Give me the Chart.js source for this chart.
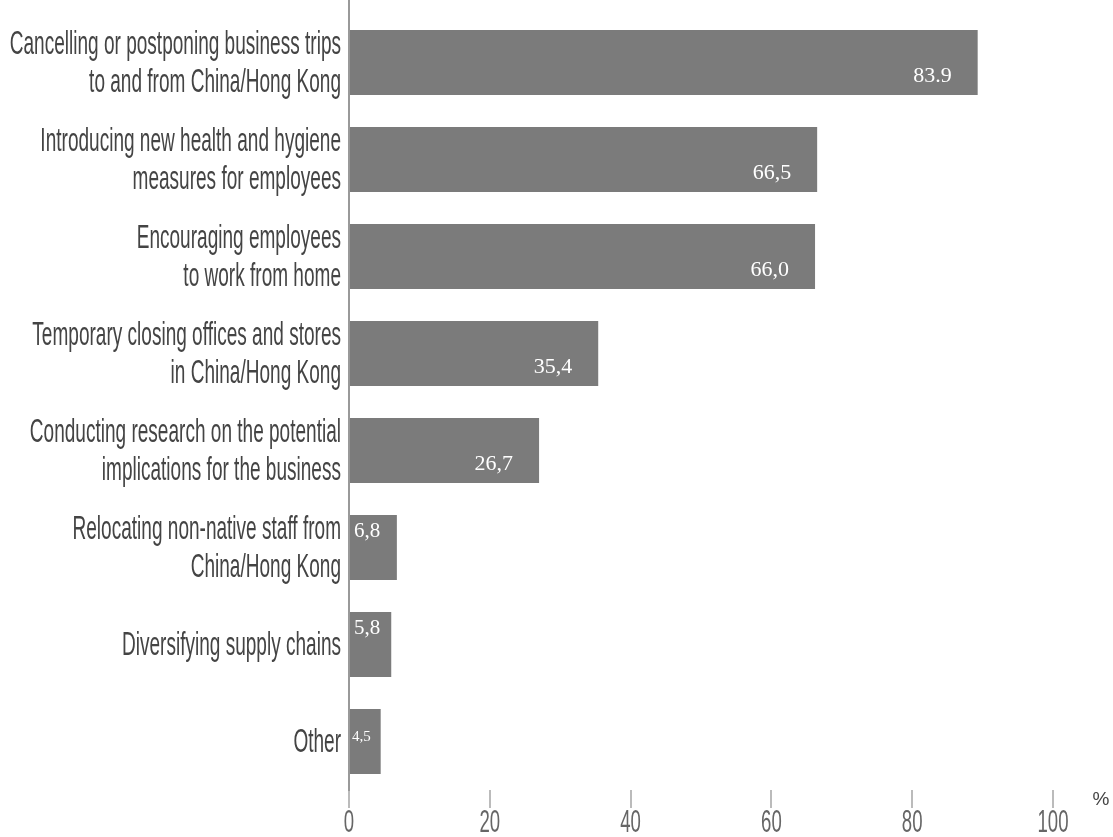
<!DOCTYPE html>
<html>
<head>
<meta charset="utf-8">
<script src="https://cdn.jsdelivr.net/npm/chart.js@4.4.1/dist/chart.umd.min.js"></script>
<style>
  html, body { margin: 0; padding: 0; background: #fff; }
  #wrap { width: 1113px; height: 837px; position: relative; }
</style>
</head>
<body>
<div id="wrap"><canvas id="grafico"></canvas></div>
<script>
// categories (multi-line labels)
const categorias = [
    ["Cancelling or postponing business trips", "to and from China/Hong Kong"],
    ["Introducing new health and hygiene", "measures for employees"],
    ["Encouraging employees", "to work from home"],
    ["Temporary closing offices and stores", "in China/Hong Kong"],
    ["Conducting research on the potential", "implications for the business"],
    ["Relocating non-native staff from", "China/Hong Kong"],
    ["Diversifying supply chains"],
    ["Other"]
];
// bar lengths as drawn in the picture
const valores = [89.3, 66.5, 66.2, 35.4, 27.0, 6.8, 6.0, 4.5];
// value labels as printed on the bars
const etiquetas = ["83.9", "66,5", "66,0", "35,4", "26,7", "6,8", "5,8", "4,5"];
const ticksX = [0, 20, 40, 60, 80, 100];

const textosPlugin = {
    id: "textos",
    afterDraw(chart) {
        const ctx = chart.ctx;
        const x = chart.scales.x;
        const y = chart.scales.y;
        ctx.save();

        // axis line continues up to the top edge
        ctx.strokeStyle = "#999";
        ctx.lineWidth = 2;
        ctx.beginPath();
        ctx.moveTo(x.left, 0);
        ctx.lineTo(x.left, chart.chartArea.top);
        ctx.stroke();

        // category labels, condensed
        ctx.fillStyle = "#444";
        ctx.textAlign = "right";
        ctx.textBaseline = "alphabetic";
        ctx.font = '34px "Liberation Sans", Arial, sans-serif';
        categorias.forEach((lineas, i) => {
            const cy = y.getPixelForValue(i);
            const n = lineas.length;
            lineas.forEach((linea, k) => {
                const by = cy + 10 + (k - (n - 1) / 2) * 38;
                ctx.save();
                ctx.translate(x.left - 8, by);
                ctx.scale(0.56, 1);
                ctx.fillText(linea, 0, 0);
                ctx.restore();
            });
        });

        // x tick labels
        ctx.textAlign = "center";
        ctx.font = '31px "Liberation Sans", Arial, sans-serif';
        ctx.fillStyle = "#666";
        ticksX.forEach(v => {
            ctx.save();
            ctx.translate(x.getPixelForValue(v), 832);
            ctx.scale(0.6, 1);
            ctx.fillText(String(v), 0, 0);
            ctx.restore();
        });
        ctx.fillStyle = "#444";
        ctx.font = '19px "Liberation Sans", Arial, sans-serif';
        ctx.fillText("%", x.right + 48, 805);

        // value labels inside bars
        const meta = chart.getDatasetMeta(0);
        ctx.fillStyle = "#fff";
        meta.data.forEach((bar, i) => {
            const v = valores[i];
            ctx.textBaseline = "middle";
            if (v > 20) {
                ctx.font = '22px "Liberation Serif", "Times New Roman", serif';
                ctx.textAlign = "right";
                ctx.fillText(etiquetas[i], bar.x - 26, bar.y + 14);
            } else if (v >= 5) {
                ctx.font = '21px "Liberation Serif", "Times New Roman", serif';
                ctx.textAlign = "left";
                ctx.fillText(etiquetas[i], bar.base + 4, bar.y - 16);
            } else {
                ctx.font = '15px "Liberation Serif", "Times New Roman", serif';
                ctx.textAlign = "left";
                ctx.fillText(etiquetas[i], bar.base + 2, bar.y - 4);
            }
        });
        ctx.restore();
    }
};

const ctx = document.getElementById("grafico").getContext("2d");
new Chart(ctx, {
    type: "bar",
    data: {
        labels: categorias,
        datasets: [{
            data: valores,
            backgroundColor: "#7b7b7b",
            borderWidth: 0,
            barPercentage: 0.67,
            categoryPercentage: 1.0
        }]
    },
    options: {
        indexAxis: "y",
        responsive: true,
        maintainAspectRatio: false,
        animation: false,
        layout: { padding: { top: 14, right: 60, left: 0, bottom: 0 } },
        plugins: {
            legend: { display: false },
            tooltip: { enabled: false }
        },
        scales: {
            x: {
                min: 0,
                max: 100,
                ticks: { stepSize: 20, display: false },
                grid: {
                    drawOnChartArea: false,
                    drawTicks: true,
                    tickLength: 18,
                    color: "#bbb",
                    lineWidth: 2
                },
                border: { display: false },
                afterFit(scale) { scale.height = 47; }
            },
            y: {
                ticks: { display: false },
                grid: { display: false },
                border: { display: true, color: "#999", width: 2 },
                afterFit(scale) { scale.width = 349; }
            }
        }
    },
    plugins: [textosPlugin]
});
</script>
</body>
</html>
